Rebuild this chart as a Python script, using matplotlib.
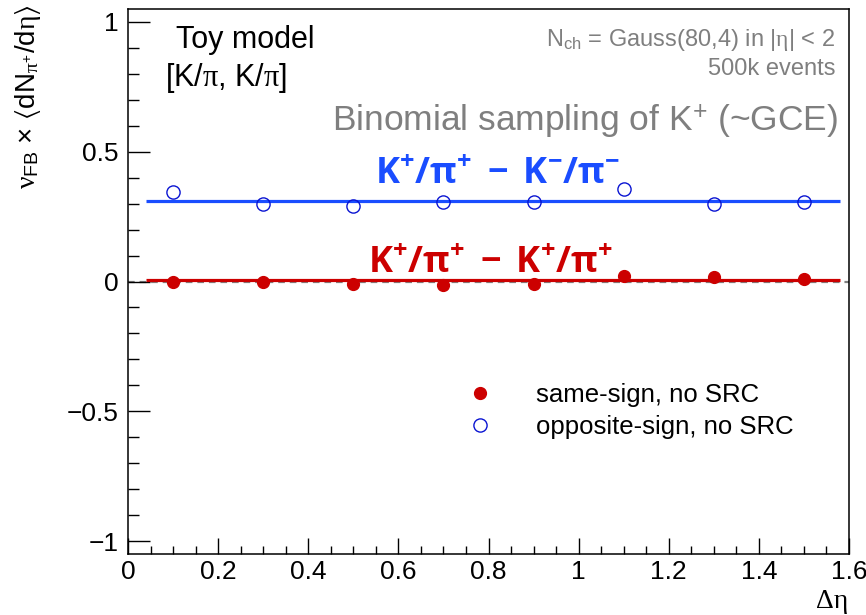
import matplotlib
matplotlib.use("Agg")
import matplotlib.pyplot as plt
from matplotlib.lines import Line2D
from matplotlib.ticker import MultipleLocator

plt.rcParams["font.family"] = ["Liberation Sans", "DejaVu Sans"]
plt.rcParams["mathtext.fontset"] = "custom"
plt.rcParams["mathtext.rm"] = "Liberation Sans"
plt.rcParams["mathtext.it"] = "Liberation Serif"
plt.rcParams["mathtext.bf"] = "Open Sans:bold"
plt.rcParams["mathtext.fallback"] = "stixsans"

# data
deta = [0.1, 0.3, 0.5, 0.7, 0.9, 1.1, 1.3, 1.5]
same_sign = [0.0, 0.0, -0.009, -0.015, -0.01, 0.023, 0.018, 0.01]
opp_sign = [0.345, 0.300, 0.290, 0.305, 0.308, 0.357, 0.299, 0.307]
fit_same = 0.006
fit_opp = 0.31
fit_range = [0.04, 1.58]

RED = "#cc0000"
BLUE_M = "#0a14d2"
BLUE_L = "#1a4dff"
GRAY = "#7f7f7f"

fig = plt.figure(figsize=(8.66, 6.15), dpi=100)
ax = fig.add_axes([128 / 866, 61 / 615, 721 / 866, 545 / 615])

ax.axhline(0, color="#808080", lw=1.6, ls=(0, (3, 2.2)), zorder=1)
ax.hlines(fit_opp, fit_range[0], fit_range[1], color=BLUE_L, lw=2.3, zorder=2)
ax.hlines(fit_same, fit_range[0], fit_range[1], color=RED, lw=2.3, zorder=2)

ax.plot(deta, same_sign, "o", color=RED, ms=8.5, zorder=3)
ax.plot(deta, opp_sign, "o", mfc="none", mec=BLUE_M, mew=1.0, ms=9.5, zorder=3)

ax.set_xlim(0, 1.6)
ax.set_ylim(-1.05, 1.05)
ax.xaxis.set_major_locator(MultipleLocator(0.2))
ax.xaxis.set_minor_locator(MultipleLocator(0.05))
ax.yaxis.set_major_locator(MultipleLocator(0.5))
ax.yaxis.set_minor_locator(MultipleLocator(0.1))
ax.set_xticks([0, 0.2, 0.4, 0.6, 0.8, 1.0, 1.2, 1.4, 1.6])
ax.set_xticklabels(["0", "0.2", "0.4", "0.6", "0.8", "1", "1.2", "1.4", "1.6"])
ax.set_yticks([-1, -0.5, 0, 0.5, 1])
ax.set_yticklabels(["\u22121", "\u22120.5", "0", "0.5", "1"])
ax.tick_params(axis="x", which="major", direction="in", length=11.5, width=1.0,
               labelsize=19, pad=4)
ax.tick_params(axis="x", which="minor", direction="in", length=5.8, width=1.0)
ax.tick_params(axis="y", which="major", direction="in", length=15.6, width=1.0,
               labelsize=19, pad=7)
ax.tick_params(axis="y", which="minor", direction="in", length=8, width=1.0)
for sp in ax.spines.values():
    sp.set_linewidth(1.1)

# texts
ax.text(0.0666, 0.943, "Toy model", transform=ax.transAxes, fontsize=22,
        va="center", ha="left")
ax.text(0.051, 0.873, r"[K/$\pi$, K/$\pi$]", transform=ax.transAxes,
        fontsize=22, va="center", ha="left")
ax.text(0.981, 0.943, r"N$_{\mathrm{ch}}$ = Gauss(80,4) in |$\eta$| < 2",
        transform=ax.transAxes, fontsize=17, color=GRAY, va="center", ha="right")
ax.text(0.981, 0.890, "500k events", transform=ax.transAxes, fontsize=17,
        color=GRAY, va="center", ha="right")
ax.text(0.985, 0.794, r"Binomial sampling of K$^{+}$ (~GCE)",
        transform=ax.transAxes, fontsize=25.5, color=GRAY, va="center", ha="right")
ax.text(0.512, 0.697, r"$\mathbf{K^{+}/\pi^{+}\ -\ K^{-}/\pi^{-}}$",
        transform=ax.transAxes, fontsize=26, color=BLUE_L, va="center", ha="center")
ax.text(0.502, 0.533, r"$\mathbf{K^{+}/\pi^{+}\ -\ K^{+}/\pi^{+}}$",
        transform=ax.transAxes, fontsize=26, color=RED, va="center", ha="center")

handles = [
    Line2D([], [], ls="none", marker="o", color=RED, ms=8.5),
    Line2D([], [], ls="none", marker="o", mfc="none", mec=BLUE_M, mew=1.0, ms=9.5),
]
ax.legend(handles, ["same-sign, no SRC", "opposite-sign, no SRC"],
          loc="center left", bbox_to_anchor=(0.470, 0.262), frameon=False,
          fontsize=18.5, handlelength=1.0, handletextpad=1.7, borderpad=0,
          borderaxespad=0, labelspacing=0.3)

fig.text(28 / 866, 1 - 4 / 615,
         r"$\nu_{\mathrm{FB}}$ $\times$ $\langle$d$\mathrm{N}_{\pi^{+}}$/d$\eta\rangle$",
         rotation=90, fontsize=20, ha="center", va="top")
fig.text(848 / 866, 1 - 601 / 615, "Δη", family="Liberation Serif",
         fontsize=20, ha="right", va="center")

fig.savefig("out.png", dpi=100)
